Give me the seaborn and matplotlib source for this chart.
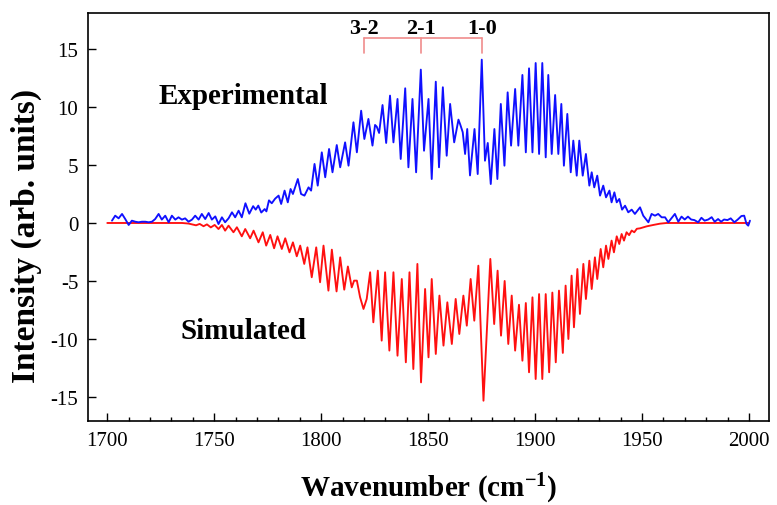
import matplotlib
matplotlib.use("Agg")
import matplotlib.pyplot as plt
import pandas as pd
import seaborn as sns
from matplotlib.ticker import MultipleLocator

# Measured spectrum (wavenumber in cm^-1, intensity in arb. units)
exp_wn = [
    1702.2, 1703.7, 1705.3, 1706.9, 1708.4, 1710.0, 1711.5, 1713.1, 1714.6, 1716.2,
    1717.8, 1719.3, 1720.9, 1722.4, 1724.0, 1725.5, 1727.1, 1728.7, 1730.2, 1731.8,
    1733.3, 1734.9, 1736.4, 1738.0, 1739.6, 1741.1, 1742.7, 1744.2, 1745.8, 1747.4,
    1748.9, 1750.5, 1752.0, 1753.6, 1755.1, 1756.7, 1758.3, 1759.8, 1761.4, 1762.9,
    1764.6, 1766.4, 1768.2, 1769.4, 1770.6, 1772.0, 1773.6, 1774.4, 1775.6, 1776.9,
    1778.5, 1780.1, 1781.3, 1782.9, 1784.4, 1785.7, 1786.8, 1789.1, 1790.6, 1792.2,
    1794.1, 1795.3, 1796.9, 1798.4, 1800.3, 1801.9, 1803.7, 1805.3, 1807.3, 1808.9,
    1811.2, 1812.8, 1815.1, 1816.7, 1818.7, 1820.2, 1822.1, 1824.0, 1825.2, 1826.0,
    1827.1, 1828.7, 1830.4, 1832.2, 1833.8, 1835.7, 1837.2, 1839.3, 1840.8, 1842.7,
    1844.4, 1846.6, 1848.1, 1850.2, 1851.7, 1853.6, 1855.1, 1856.9, 1858.7, 1860.3,
    1862.2, 1864.2, 1865.1, 1866.2, 1867.3, 1868.3, 1869.6, 1871.7, 1873.2, 1875.1,
    1876.6, 1877.9, 1879.3, 1881.0, 1882.4, 1884.0, 1885.7, 1887.2, 1888.8, 1890.7,
    1892.2, 1894.1, 1895.7, 1897.2, 1898.8, 1900.3, 1901.9, 1903.4, 1905.0, 1906.2,
    1907.8, 1909.4, 1910.9, 1912.3, 1913.5, 1915.1, 1916.7, 1917.9, 1919.5, 1920.7,
    1922.3, 1923.8, 1925.4, 1926.5, 1927.7, 1929.1, 1930.4, 1931.9, 1933.2, 1934.8,
    1935.8, 1937.1, 1938.2, 1939.4, 1940.7, 1942.1, 1943.6, 1945.2, 1946.7, 1949.1,
    1950.6, 1953.0, 1954.5, 1956.1, 1957.6, 1959.2, 1960.8, 1962.3, 1965.4, 1967.0,
    1968.5, 1970.0, 1971.5, 1973.0, 1974.5, 1976.3, 1977.8, 1979.3, 1981.0, 1982.6,
    1984.0, 1985.6, 1987.0, 1988.4, 1990.0, 1991.5, 1993.2, 1994.8, 1996.5, 1997.8,
    1998.9, 1999.7, 2000.5,
]
exp_int = [
    0.20, 0.63, 0.40, 0.78, 0.34, -0.17, 0.20, 0.11, 0.06, 0.11,
    0.11, 0.06, 0.11, 0.34, 0.78, 0.29, 0.63, 0.06, 0.63, 0.29,
    0.49, 0.29, 0.40, 0.11, 0.29, 0.63, 0.29, 0.78, 0.34, 0.86,
    0.29, 0.57, -0.09, 0.49, 0.06, 0.40, 0.92, 0.49, 1.06, 0.49,
    1.70, 0.80, 1.45, 1.15, 1.50, 0.90, 1.20, 1.00, 1.95, 1.70,
    2.10, 2.36, 1.64, 2.79, 1.78, 2.93, 2.50, 3.79, 2.50, 2.36,
    3.07, 2.79, 5.09, 3.22, 6.09, 3.94, 6.38, 4.37, 6.72, 4.80,
    6.95, 4.94, 8.68, 6.09, 9.68, 7.24, 8.97, 6.67, 8.45, 8.30,
    7.76, 10.17, 6.90, 10.98, 6.95, 10.69, 5.52, 11.61, 4.80, 10.69,
    4.37, 13.22, 6.23, 10.69, 3.79, 12.18, 4.80, 11.70, 5.80, 10.26,
    6.95, 8.91, 8.45, 7.82, 5.95, 8.10, 4.10, 8.10, 4.22, 14.08,
    5.37, 6.90, 3.36, 8.10, 3.79, 10.26, 4.94, 11.26, 6.67, 11.55,
    6.67, 12.76, 6.09, 13.33, 6.09, 13.79, 5.95, 13.79, 5.66, 12.76,
    5.95, 11.03, 5.95, 10.26, 4.94, 9.40, 4.37, 7.10, 4.08, 7.10,
    4.08, 5.95, 3.22, 4.37, 3.07, 4.08, 2.36, 3.22, 2.21, 2.79,
    1.78, 2.64, 1.78, 2.07, 1.15, 1.49, 0.92, 1.15, 0.78, 1.35,
    0.63, 0.06, 0.78, 0.63, 0.78, 0.49, 0.49, 0.06, 0.78, 0.11,
    0.55, 0.30, 0.55, 0.30, 0.25, 0.06, 0.45, 0.20, 0.30, 0.50,
    0.11, 0.34, 0.11, 0.30, 0.25, 0.40, 0.06, 0.30, 0.60, 0.63,
    -0.09, -0.23, 0.20,
]

# Simulated spectrum, plotted with inverted sign
sim_wn = [
    1700.0, 1735.0, 1738.0, 1741.5, 1743.2, 1745.0, 1746.6, 1748.4, 1750.2, 1752.0,
    1753.6, 1755.1, 1756.7, 1759.0, 1760.6, 1762.9, 1764.5, 1766.8, 1768.4, 1770.7,
    1772.7, 1774.3, 1776.2, 1778.0, 1779.6, 1781.6, 1783.2, 1785.2, 1786.8, 1788.6,
    1790.2, 1792.1, 1793.6, 1795.6, 1797.7, 1799.5, 1801.1, 1803.4, 1805.0, 1807.2,
    1808.9, 1810.8, 1812.5, 1814.3, 1815.4, 1816.7, 1818.2, 1819.8, 1821.3, 1822.9,
    1824.4, 1826.5, 1828.3, 1829.9, 1831.9, 1833.8, 1835.7, 1837.7, 1839.6, 1841.3,
    1843.1, 1845.0, 1846.7, 1848.6, 1850.2, 1851.7, 1853.6, 1855.3, 1857.2, 1859.0,
    1861.1, 1862.9, 1864.6, 1866.5, 1868.1, 1869.9, 1871.6, 1873.5, 1875.9, 1879.1,
    1880.9, 1882.5, 1884.1, 1885.8, 1887.5, 1889.1, 1890.7, 1892.5, 1894.1, 1895.7,
    1897.2, 1898.8, 1900.3, 1901.9, 1903.4, 1905.0, 1906.6, 1908.1, 1909.7, 1911.2,
    1913.0, 1914.3, 1915.6, 1917.1, 1918.2, 1919.8, 1921.0, 1922.6, 1923.8, 1925.4,
    1926.5, 1928.0, 1929.1, 1930.7, 1931.9, 1933.2, 1934.3, 1935.8, 1936.9, 1938.2,
    1939.4, 1940.5, 1941.6, 1942.8, 1944.0, 1945.2, 1946.4, 1947.6, 1949.1, 1952.2,
    1955.3, 1958.4, 1961.5, 2000.0,
]
sim_int = [
    0.00, 0.00, -0.05, -0.20, -0.08, -0.28, -0.12, -0.38, -0.17, -0.52,
    -0.17, -0.66, -0.23, -0.80, -0.37, -1.15, -0.52, -1.32, -0.66, -1.67,
    -0.80, -1.95, -1.03, -2.18, -1.15, -2.24, -1.32, -2.53, -1.67, -2.87,
    -1.95, -3.53, -2.10, -4.68, -2.10, -5.11, -1.95, -5.83, -2.30, -5.90,
    -2.96, -5.75, -3.75, -5.55, -4.97, -4.97, -6.40, -7.41, -6.55, -4.25,
    -8.56, -4.11, -10.14, -4.25, -11.00, -4.25, -11.44, -4.83, -12.01, -4.25,
    -12.59, -3.53, -13.74, -5.69, -11.58, -4.83, -11.29, -6.26, -10.57, -6.84,
    -10.43, -6.55, -9.57, -6.26, -8.85, -4.83, -8.42, -3.68, -15.32, -3.10,
    -8.71, -4.11, -9.71, -5.00, -10.43, -6.26, -11.00, -7.05, -11.87, -6.90,
    -12.87, -6.41, -13.45, -6.13, -13.45, -6.13, -12.87, -6.00, -12.01, -5.83,
    -11.20, -5.40, -10.00, -4.54, -8.99, -3.97, -7.84, -3.53, -6.55, -3.25,
    -5.69, -2.96, -4.83, -2.24, -3.82, -1.95, -3.10, -1.52, -2.53, -1.15,
    -1.81, -0.95, -1.52, -0.80, -1.05, -0.65, -0.80, -0.50, -0.46, -0.29,
    -0.17, -0.06, 0.00, 0.00,
]

# Band origins of the v -> v-1 sequence
band_labels = ["3-2", "2-1", "1-0"]
band_origins = [1820.0, 1846.9, 1875.2]

x_ticks = [1700, 1750, 1800, 1850, 1900, 1950, 2000]
y_ticks = [-15, -10, -5, 0, 5, 10, 15]

sns.set_style("white")
plt.rcParams["font.family"] = ["Liberation Serif", "DejaVu Serif"]
plt.rcParams["mathtext.fontset"] = "custom"
plt.rcParams["mathtext.rm"] = "Liberation Serif:bold"
plt.rcParams["mathtext.bf"] = "Liberation Serif:bold"
plt.rcParams["mathtext.it"] = "Liberation Serif:bold"
plt.rcParams["axes.unicode_minus"] = False
plt.rcParams["text.color"] = "black"
plt.rcParams["axes.labelcolor"] = "black"
plt.rcParams["xtick.color"] = "black"
plt.rcParams["ytick.color"] = "black"

fig = plt.figure(figsize=(7.77, 5.06), dpi=100)
ax = fig.add_axes([0.1133, 0.166, 0.8764, 0.8063])

sim_df = pd.DataFrame({"wavenumber": sim_wn, "intensity": sim_int})
exp_df = pd.DataFrame({"wavenumber": exp_wn, "intensity": exp_int})

sns.lineplot(data=sim_df, x="wavenumber", y="intensity", color="#ff1010",
             linewidth=1.35, sort=False, estimator=None, ax=ax)
sns.lineplot(data=exp_df, x="wavenumber", y="intensity", color="#1010ff",
             linewidth=1.35, sort=False, estimator=None, ax=ax)

ax.set_xlim(1691.0, 2009.4)
ax.set_ylim(-17.07, 18.1)
ax.set_xticks(x_ticks)
ax.set_yticks(y_ticks)
ax.xaxis.set_minor_locator(MultipleLocator(10))
ax.tick_params(axis="both", which="major", direction="in", length=6, width=1,
               labelsize=15, pad=7, bottom=True, left=True, top=False, right=False)
ax.tick_params(axis="x", which="minor", direction="in", length=3, width=1,
               bottom=True, top=False)
ax.tick_params(axis="y", which="minor", left=False, right=False)
for side in ["left", "right", "top", "bottom"]:
    ax.spines[side].set_color("black")
    ax.spines[side].set_linewidth(1.2)

ax.set_xlabel("Wavenumber (cm$^{-1}$)", fontsize=21, fontweight="bold", labelpad=15)
ax.set_ylabel("Intensity (arb. units)", fontsize=24, fontweight="bold")
ax.yaxis.set_label_coords(-0.067, 0.456)

ax.text(1763.6, 10.95, "Experimental", ha="center", va="center",
        fontsize=21, fontweight="bold")
ax.text(1763.6, -9.3, "Simulated", ha="center", va="center",
        fontsize=21, fontweight="bold")

# Bracket marking the band origins
bracket_color = "#f08c8c"
bar_y, foot_y = 15.95, 14.65
ax.plot([band_origins[0], band_origins[-1]], [bar_y, bar_y], color=bracket_color, lw=1.2)
for pos, lab in zip(band_origins, band_labels):
    ax.plot([pos, pos], [foot_y, bar_y], color=bracket_color, lw=1.2)
    ax.text(pos, 16.85, lab, ha="center", va="center", fontsize=16, fontweight="bold")

fig.savefig("out.png", dpi=100)
